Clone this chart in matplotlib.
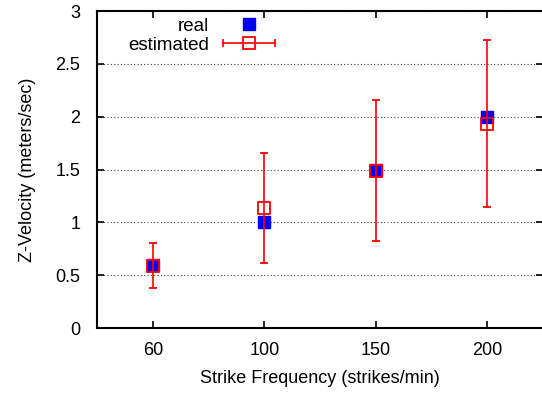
import numpy as np
import matplotlib
matplotlib.use("Agg")
import matplotlib.pyplot as plt
from matplotlib.lines import Line2D
from matplotlib.legend_handler import HandlerBase

plt.rcParams["font.family"] = ["Liberation Sans", "DejaVu Sans"]

# data
freq_labels = ["60", "100", "150", "200"]
real = [0.6, 1.0, 1.5, 2.0]
estimated = [0.59, 1.135, 1.49, 1.93]
est_low = [0.38, 0.62, 0.82, 1.145]
est_high = [0.81, 1.655, 2.16, 2.73]

x = np.arange(len(freq_labels))
est = np.array(estimated)
yerr = [est - np.array(est_low), np.array(est_high) - est]


class HorizErrHandler(HandlerBase):
    # gnuplot-like legend sample: horizontal bar with caps and an open square
    def create_artists(self, legend, orig_handle, xd, yd, width, height, fontsize, trans):
        yc = height / 2 - yd
        x0, x1 = -xd, -xd + width
        line = Line2D([x0, x1], [yc, yc], color="red", lw=1.2, transform=trans)
        caps = Line2D([x0, x1], [yc, yc], ls="none", marker="|", markersize=6,
                      color="red", markeredgewidth=1.2, transform=trans)
        sq = Line2D([(x0 + x1) / 2], [yc], ls="none", marker="s", markersize=9,
                    markerfacecolor="none", markeredgecolor="red",
                    markeredgewidth=1.3, transform=trans)
        return [line, caps, sq]


fig = plt.figure(figsize=(5.42, 3.93), dpi=100)
ax = fig.add_axes([0.179, 0.165, 0.823, 0.807])

h_real, = ax.plot(x, real, linestyle="none", marker="s", markersize=9,
                  color="#0000ff", label="real", zorder=3)
eb = ax.errorbar(x, estimated, yerr=yerr, fmt="s", markersize=9,
                 markerfacecolor="none", markeredgecolor="red", markeredgewidth=1.3,
                 ecolor="red", elinewidth=1.2, capsize=3, capthick=1.2,
                 color="red", zorder=4)

ax.set_xlim(-0.5, 3.5)
ax.set_ylim(0, 3)
ax.set_xticks(x)
ax.set_xticklabels(freq_labels)
ax.set_yticks([0, 0.5, 1, 1.5, 2, 2.5, 3])
ax.set_yticklabels(["0", "0.5", "1", "1.5", "2", "2.5", "3"])
ax.tick_params(direction="in", top=True, right=True, labelsize=13, length=5, width=1.2)
ax.tick_params(axis="x", pad=10)
ax.tick_params(axis="y", pad=12)
ax.yaxis.grid(True, linestyle=(0, (1, 2)), color="#444444", linewidth=0.8)
for s in ax.spines.values():
    s.set_linewidth(1.5)

ax.set_xlabel("Strike Frequency (strikes/min)", fontsize=13, labelpad=8)
ax.set_ylabel("Z-Velocity (meters/sec)", fontsize=13, labelpad=14)

proxy_est = Line2D([], [], color="red")
leg = ax.legend([h_real, proxy_est], ["real", "estimated"], loc="upper left",
                bbox_to_anchor=(0.045, 1.015), markerfirst=False,
                handler_map={proxy_est: HorizErrHandler()},
                frameon=False, fontsize=13.5, handlelength=2.75, handletextpad=0.75,
                labelspacing=0.12, borderaxespad=0.2)
for t in leg.get_texts():
    t.set_ha("right")
leg._legend_box.align = "right"

fig.savefig("out.png", dpi=100)
